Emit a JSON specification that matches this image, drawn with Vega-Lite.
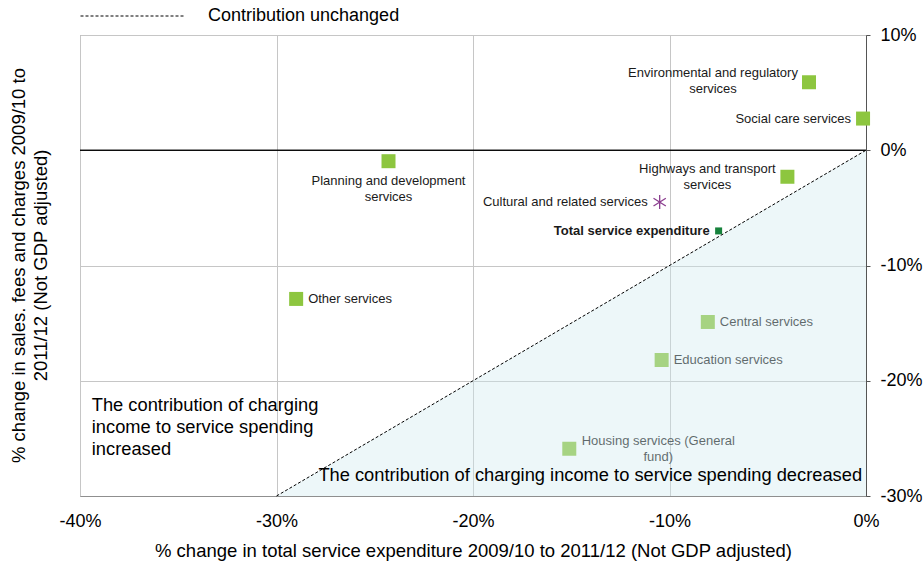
{
  "$schema": "https://vega.github.io/schema/vega-lite/v6.json",
  "width": 786,
  "height": 461,
  "autosize": {"type": "none"},
  "padding": {"left": 80, "top": 35, "right": 57, "bottom": 71},
  "config": {
    "font": "Liberation Sans",
    "view": {"stroke": "#8f8f8f", "strokeWidth": 1},
    "text": {"font": "Liberation Sans"}
  },
  "datasets": {
    "services": [
      {"name": "Environmental and regulatory services", "label": "Environmental and regulatory\nservices", "kind": "service", "x": -2.9, "y": 5.9},
      {"name": "Social care services", "label": "Social care services", "kind": "service", "x": -0.15, "y": 2.75},
      {"name": "Highways and transport services", "label": "Highways and transport\nservices", "kind": "service", "x": -4.0, "y": -2.3},
      {"name": "Cultural and related services", "label": "Cultural and related services", "kind": "cultural", "x": -10.5, "y": -4.5},
      {"name": "Total service expenditure", "label": "Total service expenditure", "kind": "total", "x": -7.5, "y": -7.0},
      {"name": "Planning and development services", "label": "Planning and development\nservices", "kind": "service", "x": -24.3, "y": -0.95},
      {"name": "Other services", "label": "Other services", "kind": "service", "x": -29.0, "y": -12.9},
      {"name": "Central services", "label": "Central services", "kind": "service", "x": -8.05, "y": -14.9},
      {"name": "Education services", "label": "Education services", "kind": "service", "x": -10.4, "y": -18.2},
      {"name": "Housing services (General fund)", "label": "Housing services (General\nfund)", "kind": "service", "x": -15.1, "y": -25.9}
    ],
    "diag": [
      {"x": -30, "y": -30, "s": "Contribution unchanged"},
      {"x": 0, "y": 0, "s": "Contribution unchanged"}
    ],
    "notes": [
      {"note": "The contribution of charging\nincome to service spending\nincreased", "side": "up"},
      {"note": "The contribution of charging income to service spending decreased", "side": "down"}
    ]
  },
  "layer": [
    {
      "data": {"name": "services"},
      "transform": [{"filter": "datum.kind === 'service'"}],
      "mark": {"type": "square", "color": "#8dc63f", "opacity": 1, "size": 196},
      "encoding": {
        "x": {
          "field": "x", "type": "quantitative",
          "scale": {"domain": [-40, 0], "nice": false, "zero": false},
          "axis": {
            "values": [-40, -30, -20, -10, 0],
            "labelExpr": "datum.value + '%'",
            "labelFontSize": 18, "labelColor": "#000", "labelPadding": 16,
            "labelFlush": false, "labelOverlap": false,
            "ticks": false, "domainColor": "#8f8f8f",
            "gridColor": "#c6c6c6",
            "title": "% change in total service expenditure 2009/10 to 2011/12 (Not GDP adjusted)",
            "titleFontSize": 18.5, "titleFontWeight": "normal", "titleColor": "#000", "titlePadding": 11
          }
        },
        "y": {
          "field": "y", "type": "quantitative",
          "scale": {"domain": [-30, 10], "nice": false, "zero": false},
          "axis": {
            "orient": "right",
            "values": [-30, -20, -10, 0, 10],
            "labelExpr": "datum.value + '%'",
            "labelFontSize": 18, "labelColor": "#000", "labelPadding": 10,
            "labelOverlap": false, "labelAlign": "left", "labelBaseline": "middle",
            "tickSize": 4, "tickColor": "#555", "domainColor": "#555",
            "gridColor": "#c6c6c6",
            "title": ["% change in sales. fees and charges 2009/10 to", "2011/12 (Not GDP adjusted)"],
            "titleFontSize": 18.5, "titleFontWeight": "normal", "titleColor": "#000",
            "titleAngle": 270, "titleX": -848, "titleY": 230,
            "titleAlign": "center", "titleBaseline": "middle", "titleLineHeight": 22
          }
        }
      }
    },
    {
      "data": {"name": "diag"},
      "mark": {"type": "rule", "color": "#000", "strokeWidth": 1.1},
      "encoding": {"y": {"datum": 0, "type": "quantitative"}}
    },
    {
      "data": {"name": "services"},
      "transform": [{"filter": "datum.kind === 'total'"}],
      "mark": {"type": "square", "color": "#17823c", "opacity": 1, "size": 49},
      "encoding": {
        "x": {"field": "x", "type": "quantitative"},
        "y": {"field": "y", "type": "quantitative"}
      }
    },
    {
      "data": {"name": "services"},
      "transform": [{"filter": "datum.kind === 'cultural'"}],
      "mark": {"type": "point", "shape": "M0,-1L0,1M-0.88,-0.55L0.88,0.55M-0.88,0.55L0.88,-0.55", "filled": false, "color": "#8b3d8f", "strokeWidth": 1.3, "opacity": 1, "size": 196},
      "encoding": {
        "x": {"field": "x", "type": "quantitative"},
        "y": {"field": "y", "type": "quantitative"}
      }
    },
    {
      "data": {"name": "services"},
      "transform": [{"filter": "indexof(['Other services','Central services','Education services'], datum.name) >= 0"}],
      "mark": {"type": "text", "align": "left", "baseline": "middle", "dx": 12, "fontSize": 13, "color": "#1a1a1a"},
      "encoding": {
        "x": {"field": "x", "type": "quantitative"},
        "y": {"field": "y", "type": "quantitative"},
        "text": {"field": "label"}
      }
    },
    {
      "data": {"name": "services"},
      "transform": [{"filter": "indexof(['Social care services','Cultural and related services'], datum.name) >= 0"}],
      "mark": {"type": "text", "align": "right", "baseline": "middle", "dx": -12, "fontSize": 13, "color": "#1a1a1a"},
      "encoding": {
        "x": {"field": "x", "type": "quantitative"},
        "y": {"field": "y", "type": "quantitative"},
        "text": {"field": "label"}
      }
    },
    {
      "data": {"name": "services"},
      "transform": [{"filter": "datum.kind === 'total'"}],
      "mark": {"type": "text", "align": "right", "baseline": "middle", "dx": -9, "fontSize": 13, "fontWeight": "bold", "color": "#1a1a1a"},
      "encoding": {
        "x": {"field": "x", "type": "quantitative"},
        "y": {"field": "y", "type": "quantitative"},
        "text": {"field": "label"}
      }
    },
    {
      "data": {"name": "services"},
      "transform": [{"filter": "datum.name === 'Environmental and regulatory services'"}],
      "mark": {"type": "text", "align": "center", "baseline": "middle", "dx": -96, "dy": -9, "fontSize": 13, "lineHeight": 16, "lineBreak": "\n", "color": "#1a1a1a"},
      "encoding": {
        "x": {"field": "x", "type": "quantitative"},
        "y": {"field": "y", "type": "quantitative"},
        "text": {"field": "label"}
      }
    },
    {
      "data": {"name": "services"},
      "transform": [{"filter": "datum.name === 'Highways and transport services'"}],
      "mark": {"type": "text", "align": "center", "baseline": "middle", "dx": -80, "dy": -8, "fontSize": 13, "lineHeight": 16, "lineBreak": "\n", "color": "#1a1a1a"},
      "encoding": {
        "x": {"field": "x", "type": "quantitative"},
        "y": {"field": "y", "type": "quantitative"},
        "text": {"field": "label"}
      }
    },
    {
      "data": {"name": "services"},
      "transform": [{"filter": "datum.name === 'Planning and development services'"}],
      "mark": {"type": "text", "align": "center", "baseline": "middle", "dx": 0, "dy": 20, "fontSize": 13, "lineHeight": 16, "lineBreak": "\n", "color": "#1a1a1a"},
      "encoding": {
        "x": {"field": "x", "type": "quantitative"},
        "y": {"field": "y", "type": "quantitative"},
        "text": {"field": "label"}
      }
    },
    {
      "data": {"name": "services"},
      "transform": [{"filter": "datum.name === 'Housing services (General fund)'"}],
      "mark": {"type": "text", "align": "center", "baseline": "middle", "dx": 89, "dy": -8, "fontSize": 13, "lineHeight": 16, "lineBreak": "\n", "color": "#1a1a1a"},
      "encoding": {
        "x": {"field": "x", "type": "quantitative"},
        "y": {"field": "y", "type": "quantitative"},
        "text": {"field": "label"}
      }
    },
    {
      "data": {"name": "diag"},
      "mark": {"type": "area", "fill": "#cfe9f0", "fillOpacity": 0.38, "stroke": null},
      "encoding": {
        "x": {"field": "x", "type": "quantitative"},
        "y": {"field": "y", "type": "quantitative"},
        "y2": {"datum": -30}
      }
    },
    {
      "data": {"name": "diag"},
      "mark": {"type": "line", "color": "#000", "strokeWidth": 1},
      "encoding": {
        "x": {"field": "x", "type": "quantitative"},
        "y": {"field": "y", "type": "quantitative"},
        "strokeDash": {
          "field": "s", "type": "nominal",
          "scale": {"range": [[3, 2]]},
          "legend": {
            "title": null, "orient": "none", "legendX": 0, "legendY": -72,
            "padding": 0, "symbolType": "stroke", "symbolSize": 11025,
            "symbolStrokeWidth": 1, "symbolStrokeColor": "#000",
            "labelFontSize": 18, "labelColor": "#000", "labelOffset": 22, "labelLimit": 0
          }
        }
      }
    },
    {
      "data": {"name": "notes"},
      "transform": [{"filter": "datum.side === 'up'"}],
      "mark": {"type": "text", "align": "left", "baseline": "middle", "fontSize": 18.3, "lineHeight": 22, "lineBreak": "\n", "color": "#000"},
      "encoding": {
        "x": {"datum": -39.4, "type": "quantitative"},
        "y": {"datum": -22.2, "type": "quantitative"},
        "text": {"field": "note"}
      }
    },
    {
      "data": {"name": "notes"},
      "transform": [{"filter": "datum.side === 'down'"}],
      "mark": {"type": "text", "align": "right", "baseline": "middle", "fontSize": 18.3, "color": "#000"},
      "encoding": {
        "x": {"datum": -0.2, "type": "quantitative"},
        "y": {"datum": -28.3, "type": "quantitative"},
        "text": {"field": "note"}
      }
    }
  ]
}
